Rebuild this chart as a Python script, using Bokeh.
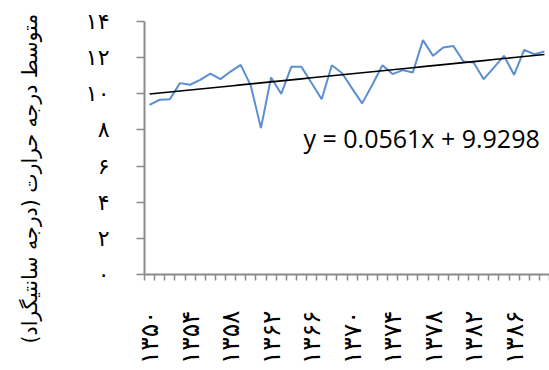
import math
import numpy as np
from bokeh.plotting import figure
from bokeh.models import FixedTicker, Range1d, Label, Title
from bokeh.embed import file_html
from bokeh.resources import INLINE

# ---- data ----
years = list(range(1350, 1390))
temps = [9.39, 9.67, 9.70, 10.59, 10.50, 10.77, 11.12, 10.81, 11.23, 11.60,
         10.45, 8.10, 10.90, 10.00, 11.49, 11.49, 10.60, 9.70, 11.58, 11.15,
         10.30, 9.47, 10.50, 11.58, 11.09, 11.31, 11.18, 12.97, 12.10, 12.56,
         12.65, 11.79, 11.73, 10.81, 11.45, 12.10, 11.05, 12.43, 12.19, 12.34]
slope = 0.0561
intercept = 9.9298
y_ticks = [0, 2, 4, 6, 8, 10, 12, 14]
x_label_years = years[::4]
y_title = "متوسط درجه حرارت (درجه سانتیگراد)"
equation = "y = 0.0561x + 9.9298"

fa_map = str.maketrans("0123456789", "۰۱۲۳۴۵۶۷۸۹")
def fa(n):
    return str(n).translate(fa_map)

xs = np.arange(1, len(years) + 1)
trend = slope * xs + intercept

AXIS_GRAY = "#8a8a8a"

p = figure(width=549, height=370, output_backend="svg", toolbar_location=None,
           x_range=Range1d(0.5, len(years) + 0.5), y_range=Range1d(0, 14),
           min_border_left=144, min_border_right=0, min_border_top=21,
           min_border_bottom=96)
p.outline_line_color = None
p.grid.visible = False
p.background_fill_color = "white"
p.border_fill_color = "white"

p.line(xs, temps, line_color="#5b8fd2", line_width=2)
p.line(xs, trend, line_color="black", line_width=1.6)

# x axis
label_pos = [years.index(y) + 1 for y in x_label_years]
xa = p.xaxis[0]
xa.ticker = FixedTicker(ticks=label_pos,
                        minor_ticks=[k + 0.5 for k in range(len(years) + 1)])
xa.major_label_overrides = {int(i): fa(y) for i, y in zip(label_pos, x_label_years)}
xa.major_tick_out = 0
xa.major_tick_in = 0
xa.minor_tick_out = 6
xa.minor_tick_in = 0
xa.minor_tick_line_color = AXIS_GRAY
xa.minor_tick_line_width = 1.5
xa.axis_line_color = AXIS_GRAY
xa.axis_line_width = 2
xa.major_label_orientation = math.pi / 2
xa.major_label_standoff = 30
xa.major_label_text_font = "DejaVu Sans"
xa.major_label_text_font_size = "25px"
xa.major_label_text_color = "black"

# y axis
ya = p.yaxis[0]
ya.ticker = FixedTicker(ticks=y_ticks)
ya.major_label_overrides = {int(t): fa(t) for t in y_ticks}
ya.major_tick_out = 8
ya.major_tick_in = 0
ya.minor_tick_out = 0
ya.minor_tick_in = 0
ya.major_tick_line_color = AXIS_GRAY
ya.major_tick_line_width = 1.5
ya.axis_line_color = AXIS_GRAY
ya.axis_line_width = 2
ya.major_label_standoff = 27
ya.major_label_text_font = "DejaVu Sans"
ya.major_label_text_font_size = "22px"
ya.major_label_text_color = "black"
# blank spacer label: keeps a gap between tick labels and the title
ya.axis_label = " "
ya.axis_label_text_font_size = "1px"
ya.axis_label_standoff = 37

p.add_layout(Title(text=y_title, align="left", offset=-69, standoff=0,
                   vertical_align="bottom",
                   text_font="DejaVu Sans", text_font_size="20.5px",
                   text_font_style="normal", text_color="black"), "left")

p.add_layout(Label(x=16.2, y=7.55, text=equation, text_baseline="middle",
                   text_align="left", text_font="Open Sans",
                   text_font_size="25px", text_color="black"))

open("out.html", "w").write(file_html(p, INLINE))
